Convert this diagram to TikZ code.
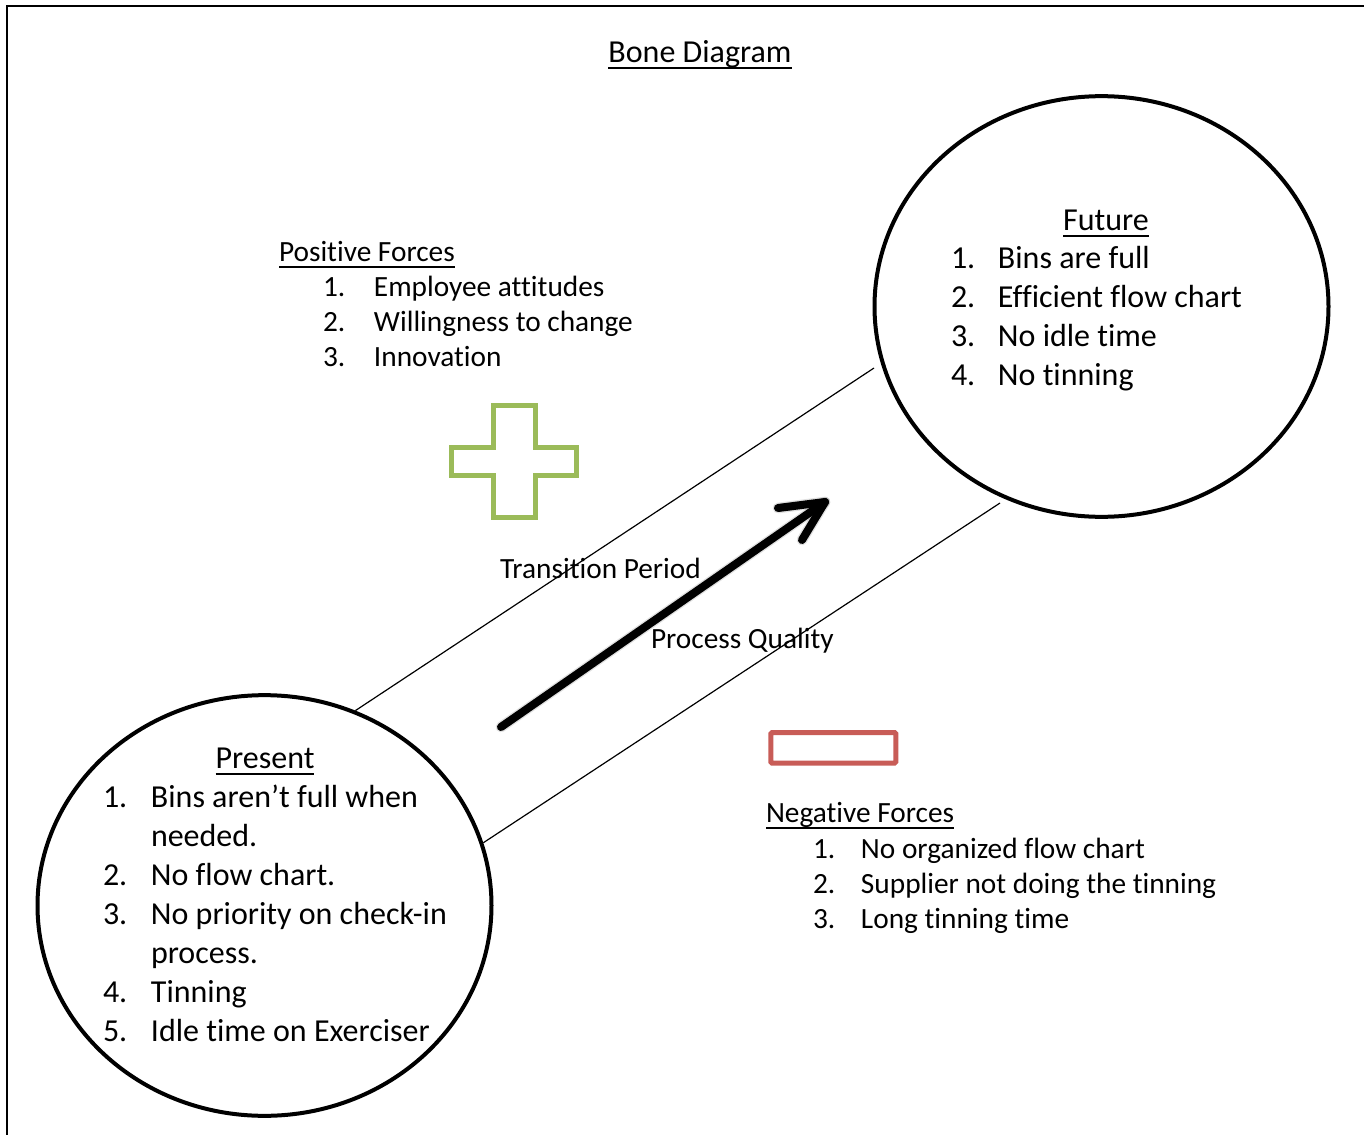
\documentclass[tikz,border=0pt]{standalone}
\usepackage{fontspec}
\setmainfont{Carlito}[Ligatures=NoCommon]
\usetikzlibrary{shapes.geometric,calc}

\definecolor{plusgreen}{RGB}{155,187,89}
\definecolor{minusred}{RGB}{200,92,87}

% underline at a fixed depth below the baseline
\newcommand\ulined[1]{\setbox0=\hbox{#1}\rlap{\rule[-5pt]{\wd0}{1.5pt}}\box0}
% numbered entry: number in a box of fixed width, then the text
\newcommand\itm[3][36pt]{\makebox[#1][l]{#2}#3}

\begin{document}
\begin{tikzpicture}[x=0.75pt,y=-0.75pt,
    txt/.style={inner sep=0pt, outer sep=0pt, anchor=base west,
                font=\fontsize{22}{26.6}\selectfont},
    bubbletxt/.style={txt, font=\fontsize{24}{29.25}\selectfont},
    bubble/.style={draw, ellipse, line width=3pt, inner sep=0pt,
                   minimum width=340.5pt, minimum height=315.5pt},
    rail/.style={line width=0.9pt},
    bigarrow/.style={line width=6pt, line cap=round, line join=round},
    arrowshade/.style={line width=8pt, line cap=round, line join=round,
                       draw=black, opacity=0.12}]
\useasboundingbox (0,0) rectangle (1364,1135);

% page frame (top and left edges)
\draw[line width=1.6pt] (7,1135) -- (7,6) -- (1364,6);

% title
\node[txt, anchor=base, font=\fontsize{24}{29}\selectfont] (title) at (700,62) {\ulined{Bone Diagram}};

% the two states
\node[bubble] (future) at (1101.5,306.5) {};
\node[bubble] (present) at (264.5,905.5) {};

% texts inside the states
\node[bubbletxt, anchor=base] (futurehead) at (1106,230) {\ulined{Future}};
\node[bubbletxt] (futurelist) at (951,268) {\begin{tabular}[t]{@{}l@{}}
  \itm[35.25pt]{1.}{Bins are full}\\
  \itm[35.25pt]{2.}{Efficient flow chart}\\
  \itm[35.25pt]{3.}{No idle time}\\
  \itm[35.25pt]{4.}{No tinning}
\end{tabular}};

\node[bubbletxt, anchor=base] (presenthead) at (265,768) {\ulined{Present}};
\node[bubbletxt] (presentlist) at (103,807) {\begin{tabular}[t]{@{}l@{}}
  \itm{1.}{Bins aren’t full when}\\
  \itm{}{needed.}\\
  \itm{2.}{No flow chart.}\\
  \itm{3.}{No priority on check-in}\\
  \itm{}{process.}\\
  \itm{4.}{Tinning}\\
  \itm{5.}{Idle time on Exerciser}
\end{tabular}};

% forces
\node[txt] (poshead) at (279,261) {\ulined{Positive Forces}};
\node[txt] (poslist) at (323,296) {\begin{tabular}[t]{@{}l@{}}
  \itm[38.25pt]{1.}{Employee attitudes}\\
  \itm[38.25pt]{2.}{Willingness to change}\\
  \itm[38.25pt]{3.}{Innovation}
\end{tabular}};

\node[txt] (neghead) at (766,822) {\ulined{Negative Forces}};
\node[txt] (neglist) at (813,858) {\begin{tabular}[t]{@{}l@{}}
  \itm{1.}{No organized flow chart}\\
  \itm{2.}{Supplier not doing the tinning}\\
  \itm{3.}{Long tinning time}
\end{tabular}};

% transition labels
\node[txt] (transition) at (500,578) {Transition Period};
\node[txt] (quality) at (651,648) {Process Quality};

% plus sign
\draw[plusgreen, line width=3.75pt, line join=miter]
  (493.5,405.2) -- (535.2,405.2) -- (535.2,447.5) -- (576.8,447.5)
  -- (576.8,475.2) -- (535.2,475.2) -- (535.2,517.5) -- (493.5,517.5)
  -- (493.5,475.2) -- (451.8,475.2) -- (451.8,447.5) -- (493.5,447.5)
  -- cycle;

% minus sign
\draw[minusred, line width=3.75pt, rounded corners=1pt]
  (770.8,732.5) rectangle (895.8,763.2);

% rails of the transition band, stopping just short of the future state
\coordinate (railtop) at (874,368);
\coordinate (railbottom) at (1000,503);
\draw[rail] (present.65) -- (railtop);
\draw[rail] (present.16) -- (railbottom);

% transition arrow with its shadow
\coordinate (qstart) at (501,727);
\coordinate (qtip) at (825,502);
\coordinate (barbA) at (778,508);
\coordinate (barbB) at (802,540);
\begin{scope}[shift={(4,5)}]
  \draw[arrowshade] (qstart) -- (qtip);
  \draw[arrowshade] (barbA) -- (qtip) -- (barbB);
\end{scope}
\begin{scope}[shift={(3,3)}]
  \draw[arrowshade, line width=6pt] (qstart) -- (qtip);
  \draw[arrowshade, line width=6pt] (barbA) -- (qtip) -- (barbB);
\end{scope}
\draw[bigarrow] (qstart) -- (qtip);
\draw[bigarrow] (barbA) -- (qtip) -- (barbB);
\end{tikzpicture}
\end{document}
